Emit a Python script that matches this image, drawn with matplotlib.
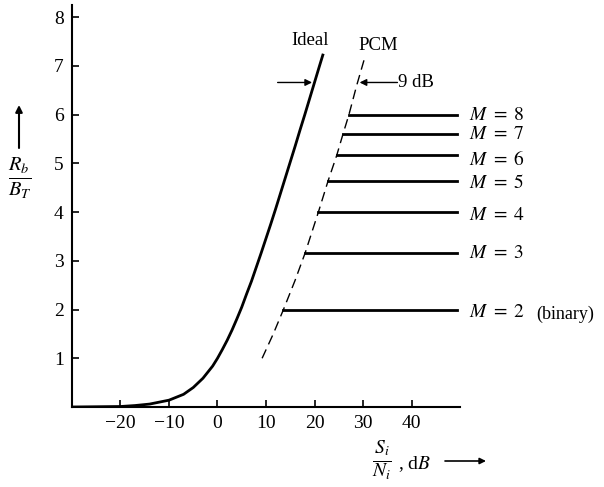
import matplotlib
matplotlib.use("Agg")
import matplotlib.pyplot as plt

plt.rcParams['font.family'] = ['Liberation Serif', 'DejaVu Serif']
plt.rcParams['mathtext.fontset'] = 'stix'

# ideal (Shannon) curve
ideal_x = [-30, -20, -17, -14, -10, -7, -5, -3, -1, 0, 1, 2, 3, 4, 5, 6, 7, 8, 9, 10,
           11, 12, 13, 14, 15, 16, 17, 18, 19, 20, 21, 21.8]
ideal_y = [0.0, 0.01, 0.03, 0.06, 0.14, 0.26, 0.40, 0.59, 0.84, 1.0, 1.18, 1.37, 1.58,
           1.81, 2.05, 2.32, 2.58, 2.87, 3.16, 3.46, 3.76, 4.07, 4.39, 4.71, 5.03,
           5.35, 5.68, 6.0, 6.33, 6.66, 6.99, 7.25]

# PCM threshold (dashed)
pcm_x = [9.2, 11.5, 13.6, 16.0, 18.1, 20.8, 22.8, 24.6, 25.9, 27.1, 28.7, 30.3]
pcm_y = [1.0, 1.5, 2.0, 2.6, 3.17, 4.0, 4.64, 5.17, 5.61, 6.0, 6.6, 7.15]

# M-ary levels
m_levels = [2, 3, 4, 5, 6, 7, 8]
m_start = [13.6, 18.1, 20.8, 22.8, 24.6, 25.9, 27.1]
m_rate = [2.0, 3.17, 4.0, 4.64, 5.17, 5.61, 6.0]
m_end = 49.3
m_label_y = [1.93, 3.16, 3.94, 4.6, 5.07, 5.59, 5.98]

x_ticks = [-20, -10, 0, 10, 20, 30, 40]
y_ticks = [1, 2, 3, 4, 5, 6, 7, 8]

fig = plt.figure(figsize=(6.04, 4.87), dpi=100)
ax = fig.add_axes([72 / 604, 1 - 407 / 487, 388 / 604, 402 / 487])

ax.plot(ideal_x, ideal_y, color='black', lw=2.0, solid_capstyle='butt')
ax.plot(pcm_x, pcm_y, color='black', lw=1.0, dashes=(7, 4))
for m, x0, r, ly in zip(m_levels, m_start, m_rate, m_label_y):
    ax.plot([x0, m_end], [r, r], color='black', lw=2.0)
    ax.text(51.8, ly, '$M\\ =\\ %d$' % m, fontsize=14, va='center', ha='left',
            clip_on=False)
ax.text(65.8, 1.9, '(binary)', fontsize=13, va='center', ha='left', clip_on=False)

ax.text(19.0, 7.43, 'Ideal', fontsize=13.5, ha='center', va='baseline')
ax.text(33.2, 7.33, 'PCM', fontsize=13.5, ha='center', va='baseline')

ax.annotate('', xy=(19.5, 6.66), xytext=(12.4, 6.66),
            arrowprops=dict(arrowstyle='-|>', color='black', lw=1.0,
                            mutation_scale=10, shrinkA=0, shrinkB=0))
ax.annotate('', xy=(29.3, 6.66), xytext=(37.1, 6.66),
            arrowprops=dict(arrowstyle='-|>', color='black', lw=1.0,
                            mutation_scale=10, shrinkA=0, shrinkB=0))
ax.text(37.2, 6.66, '9 dB', fontsize=13.5, ha='left', va='center')

ax.set_xlim(-30, 50)
ax.set_ylim(0, 8.25)
ax.set_xticks(x_ticks)
ax.set_yticks(y_ticks)
ax.set_xticklabels(['\u2212' + str(-t) if t < 0 else str(t) for t in x_ticks])
ax.tick_params(direction='in', length=5, width=1.2, labelsize=14, pad=6)
for s in ['top', 'right']:
    ax.spines[s].set_visible(False)
for s in ['left', 'bottom']:
    ax.spines[s].set_linewidth(1.5)

# y label with arrow
fig.text(20 / 604, 1 - 178 / 487, '$\\frac{R_b}{B_T}$', fontsize=21,
         ha='center', va='center')
ax.annotate('', xy=(19 / 604, 1 - 105 / 487), xytext=(19 / 604, 1 - 148 / 487),
            xycoords='figure fraction', textcoords='figure fraction',
            arrowprops=dict(arrowstyle='-|>', color='black', lw=1.5,
                            mutation_scale=10, shrinkA=0, shrinkB=0))

# x label with arrow
fig.text(382 / 604, 1 - 460 / 487, '$\\frac{S_i}{N_i}$', fontsize=20,
         ha='center', va='center')
fig.text(398 / 604, 1 - 464 / 487, ', d$B$', fontsize=14, ha='left', va='center')
ax.annotate('', xy=(486 / 604, 1 - 461 / 487), xytext=(445 / 604, 1 - 461 / 487),
            xycoords='figure fraction', textcoords='figure fraction',
            arrowprops=dict(arrowstyle='-|>', color='black', lw=1.2,
                            mutation_scale=9, shrinkA=0, shrinkB=0))

fig.savefig('out.png', dpi=100)
